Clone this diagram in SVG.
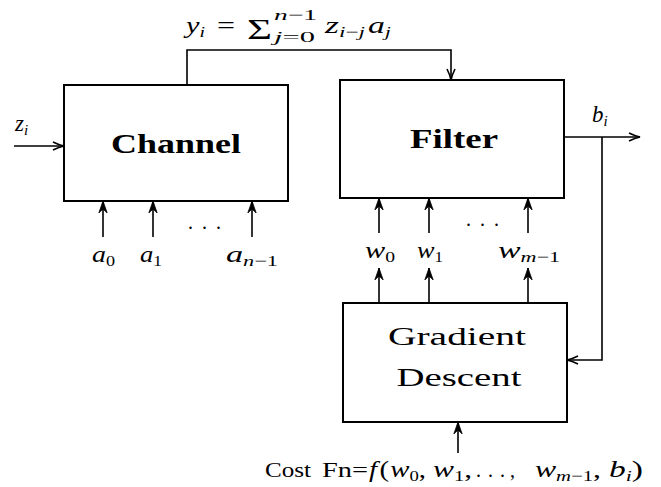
<svg xmlns="http://www.w3.org/2000/svg" width="661" height="487" viewBox="0 0 661 487">
<style>
.box{fill:none;stroke:#000;stroke-width:2}
.ln{fill:none;stroke:#000;stroke-width:1.6}
.lbl{font-family:"Liberation Serif","Times New Roman",serif;fill:#000}
.bold{font-weight:bold;font-size:28px}
.big{font-size:25px}
.m{font-family:"Liberation Serif","Times New Roman",serif;font-style:italic;font-size:23px;fill:#000}
.s{font-size:15px}
.r{font-style:normal}
</style>
<defs>
<marker id="ah" markerWidth="14" markerHeight="10" refX="12" refY="5" orient="auto" markerUnits="userSpaceOnUse">
<path d="M1,1 Q7,4 12,5 Q7,6 1,9" fill="none" stroke="#000" stroke-width="1.6"/>
</marker>
<marker id="av" markerWidth="14" markerHeight="10" refX="12" refY="5" orient="auto" markerUnits="userSpaceOnUse">
<path d="M0,0.8 L12,5 L0,9.2 L4,5 Z" fill="#000" stroke="#000" stroke-width="0.8"/>
</marker>
</defs>

<g id="channel">
<rect class="box" x="64" y="85" width="224" height="116"/>
<text class="lbl bold" x="176" y="153" text-anchor="middle" textLength="130" lengthAdjust="spacingAndGlyphs">Channel</text>
</g>

<g id="filter">
<rect class="box" x="340" y="80" width="224" height="118"/>
<text class="lbl bold" x="454" y="148" text-anchor="middle" textLength="88" lengthAdjust="spacingAndGlyphs">Filter</text>
</g>

<g id="gradient-descent">
<rect class="box" x="343" y="303" width="224" height="119"/>
<text class="lbl big" x="457" y="345" text-anchor="middle" textLength="138" lengthAdjust="spacingAndGlyphs">Gradient</text>
<text class="lbl big" x="459" y="386" text-anchor="middle" textLength="125" lengthAdjust="spacingAndGlyphs">Descent</text>
</g>

<g id="connectors">
<path class="ln" d="M14,146 L64,146" marker-end="url(#ah)"/>
<path class="ln" d="M187,85 L187,50 L451,50 L451,80" marker-end="url(#ah)"/>
<path class="ln" d="M564,137 L640,137" marker-end="url(#ah)"/>
<path class="ln" d="M602,137 L602,360 L567,360" marker-end="url(#ah)"/>
<path class="ln" d="M103,237 L103,201" marker-end="url(#av)"/>
<path class="ln" d="M153,237 L153,201" marker-end="url(#av)"/>
<path class="ln" d="M252,237 L252,201" marker-end="url(#av)"/>
<path class="ln" d="M379,233 L379,198" marker-end="url(#av)"/>
<path class="ln" d="M429,233 L429,198" marker-end="url(#av)"/>
<path class="ln" d="M528,233 L528,198" marker-end="url(#av)"/>
<path class="ln" d="M379,303 L379,268" marker-end="url(#av)"/>
<path class="ln" d="M429,303 L429,268" marker-end="url(#av)"/>
<path class="ln" d="M528,303 L528,268" marker-end="url(#av)"/>
<path class="ln" d="M458,453 L458,422" marker-end="url(#av)"/>
</g>

<g id="labels">
<text class="m" x="186" y="33" textLength="19" lengthAdjust="spacingAndGlyphs">y<tspan class="s" dy="4">i</tspan></text>
<text class="m r" x="217" y="33" textLength="18" lengthAdjust="spacingAndGlyphs">=</text>
<text class="lbl" x="247" y="39" font-size="30" textLength="25" lengthAdjust="spacingAndGlyphs">Σ</text>
<text class="m s" x="274" y="20" textLength="43" lengthAdjust="spacingAndGlyphs">n<tspan class="r">−1</tspan></text>
<text class="m s" x="274" y="42" textLength="41" lengthAdjust="spacingAndGlyphs">j<tspan class="r">=0</tspan></text>
<text class="m" x="325" y="33" textLength="40" lengthAdjust="spacingAndGlyphs">z<tspan class="s" dy="4">i<tspan class="r">−</tspan>j</tspan></text>
<text class="m" x="368" y="33" textLength="23" lengthAdjust="spacingAndGlyphs">a<tspan class="s" dy="4">j</tspan></text>

<text class="m" x="15" y="131">z<tspan class="s" dy="4">i</tspan></text>
<text class="m" x="592" y="122">b<tspan class="s" dy="4">i</tspan></text>

<text class="m" x="92" y="262" textLength="23" lengthAdjust="spacingAndGlyphs">a<tspan class="s r" dy="4">0</tspan></text>
<text class="m" x="140" y="262" textLength="22" lengthAdjust="spacingAndGlyphs">a<tspan class="s r" dy="4">1</tspan></text>
<text class="m" x="226" y="262" textLength="52" lengthAdjust="spacingAndGlyphs">a<tspan class="s" dy="4">n<tspan class="r">−1</tspan></tspan></text>
<text class="lbl" font-size="20" x="188 202 216" y="229">...</text>

<text class="m" x="365" y="258" textLength="30" lengthAdjust="spacingAndGlyphs">w<tspan class="s r" dy="4">0</tspan></text>
<text class="m" x="417" y="258" textLength="26" lengthAdjust="spacingAndGlyphs">w<tspan class="s r" dy="4">1</tspan></text>
<text class="m" x="498" y="258" textLength="62" lengthAdjust="spacingAndGlyphs">w<tspan class="s" dy="4">m<tspan class="r">−1</tspan></tspan></text>
<text class="lbl" font-size="20" x="466 480 494" y="226">...</text>

<text class="lbl" font-size="20" x="265" y="477" textLength="46" lengthAdjust="spacingAndGlyphs">Cost</text>
<text class="lbl" font-size="20" x="322" y="477" textLength="46" lengthAdjust="spacingAndGlyphs">Fn=</text>
<text class="m" font-size="21" x="369" y="477" textLength="57" lengthAdjust="spacingAndGlyphs">f<tspan class="r" dx="2">(</tspan><tspan dx="1">w</tspan><tspan class="s r" dy="4">0</tspan><tspan class="r" dy="-4">,</tspan></text>
<text class="m" font-size="21" x="433" y="477" textLength="39" lengthAdjust="spacingAndGlyphs">w<tspan class="s r" dy="4">1</tspan><tspan class="r" dy="-4">,</tspan></text>
<text class="lbl" font-size="20" x="476 488 500 510" y="477">...,</text>
<text class="m" font-size="21" x="535" y="477" textLength="66" lengthAdjust="spacingAndGlyphs">w<tspan class="s" dy="4">m<tspan class="r">−1</tspan></tspan><tspan class="r" dy="-4">,</tspan></text>
<text class="m" font-size="21" x="609" y="477" textLength="34" lengthAdjust="spacingAndGlyphs">b<tspan class="s" dy="4">i</tspan><tspan class="r" dy="-4">)</tspan></text>
</g>
</svg>
